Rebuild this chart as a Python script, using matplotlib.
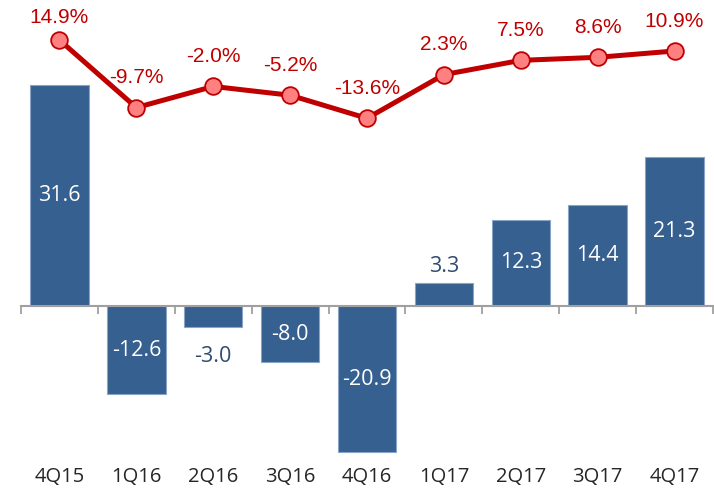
import matplotlib.pyplot as plt

quarters = ["4Q15", "1Q16", "2Q16", "3Q16", "4Q16", "1Q17", "2Q17", "3Q17", "4Q17"]
bar_values = [31.6, -12.6, -3.0, -8.0, -20.9, 3.3, 12.3, 14.4, 21.3]
growth_pct = [14.9, -9.7, -2.0, -5.2, -13.6, 2.3, 7.5, 8.6, 10.9]

BAR_COLOR = "#36608f"
LINE_COLOR = "#c00000"
MARKER_FILL = "#ff8080"

fig = plt.figure(figsize=(7.14, 4.91), dpi=100)
ax = fig.add_axes([21 / 714, 31 / 491, 692 / 714, 448 / 491])
x = list(range(len(quarters)))

bars = ax.bar(x, bar_values, width=0.76, color=BAR_COLOR,
              edgecolor="#8aa4c8", linewidth=0.8, zorder=2)
ax.set_xlim(-0.5, len(quarters) - 0.5)
ax.set_ylim(-22, 42)

# value labels: white inside big bars, dark blue outside the small ones
for b, v in zip(bars, bar_values):
    cx = b.get_x() + b.get_width() / 2
    if abs(v) >= 5:
        ax.text(cx, v / 2, f"{v:.1f}", ha="center", va="center",
                color="white", fontsize=15.5, family="Open Sans", zorder=3)
    elif v > 0:
        ax.annotate(f"{v:.1f}", (cx, v), xytext=(0, 12), textcoords="offset points",
                    ha="center", va="center", color="#2f4b70", fontsize=15.5,
                    family="Open Sans")
    else:
        ax.annotate(f"{v:.1f}", (cx, v), xytext=(0, -21), textcoords="offset points",
                    ha="center", va="center", color="#2f4b70", fontsize=15.5,
                    family="Open Sans")

# zero axis with ticks between categories
for s in ax.spines.values():
    s.set_visible(False)
ax.spines["bottom"].set_visible(True)
ax.spines["bottom"].set_position(("data", 0))
ax.spines["bottom"].set_color("#a0a0a0")
ax.spines["bottom"].set_linewidth(1.5)
ax.set_xticks([i - 0.5 for i in range(len(quarters) + 1)])
ax.set_xticklabels([])
ax.tick_params(axis="x", direction="out", length=6, width=1.3, color="#a0a0a0")
ax.set_yticks([])

for i, q in enumerate(quarters):
    ax.text(i, -0.037, q, transform=ax.get_xaxis_transform(), ha="center",
            va="center", fontsize=14.5, color="#262626", family="Open Sans")

# growth line on a second scale
ax2 = ax.twinx()
ax2.set_ylim(-138, 25.1)
ax2.axis("off")
ax2.plot(x, growth_pct, color=LINE_COLOR, linewidth=3.6, marker="o",
         markersize=12, markerfacecolor=MARKER_FILL, markeredgecolor=LINE_COLOR,
         markeredgewidth=1.3, zorder=4)
for i, p in enumerate(growth_pct):
    off = 16 if i == 0 else 21.5
    ax2.annotate(f"{p:.1f}%", (i, p), xytext=(0, off), textcoords="offset points",
                 ha="center", va="center", color=LINE_COLOR, fontsize=15,
                 family="Liberation Sans")

fig.savefig("out.png", dpi=100)
